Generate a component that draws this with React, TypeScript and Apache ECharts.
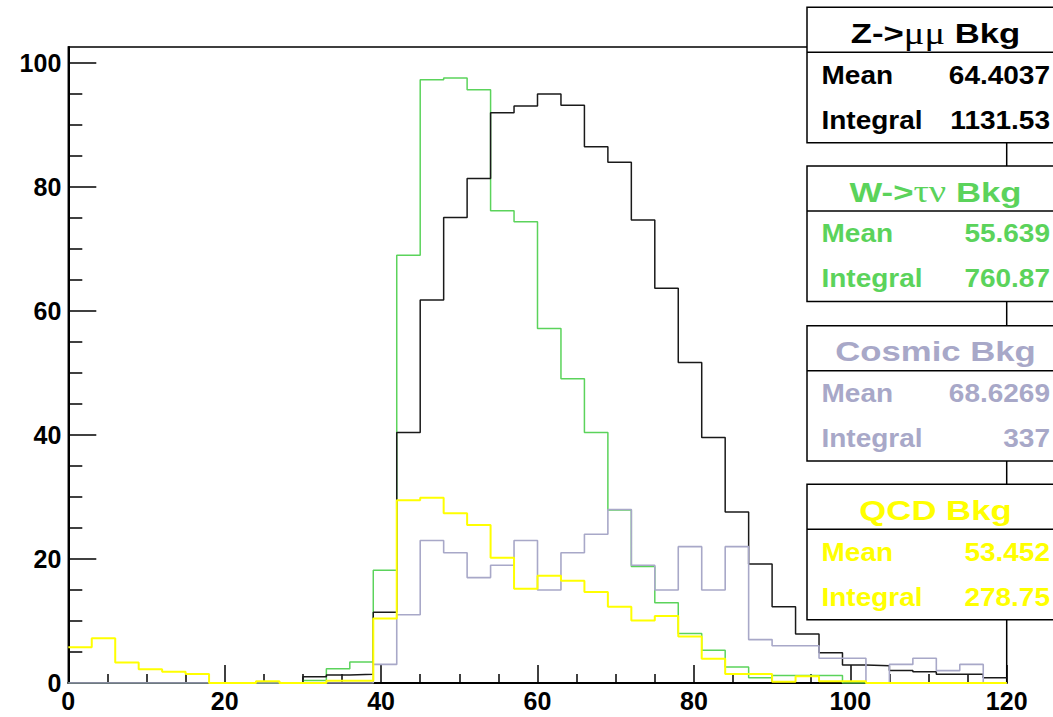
import React, { useEffect, useRef } from "react";
import * as echarts from "echarts";

// Histogram binning: 40 bins of width 3 on [0, 120)
const binLowEdges = [
  0, 3, 6, 9, 12, 15, 18, 21, 24, 27, 30, 33, 36, 39, 42, 45, 48, 51, 54, 57,
  60, 63, 66, 69, 72, 75, 78, 81, 84, 87, 90, 93, 96, 99, 102, 105, 108, 111, 114, 117,
];
const xUpperEdge = 120;

// Bin contents per background sample
const zMuMuBkg = [
  0, 0, 0, 0, 0, 0, 0, 0, 0.2, 0, 1.0, 1.3, 1.4, 11.4, 40.4, 61.8, 75.1, 81.4, 92.0, 93.1,
  95.0, 93.2, 86.5, 84.0, 74.7, 63.7, 51.7, 39.6, 27.6, 19.2, 12.3, 7.9, 4.9, 2.9, 2.8, 2.0, 1.8, 1.4, 1.4, 0.86,
];
const wTauNuBkg = [
  0, 0, 0, 0, 0, 0, 0, 0, 0, 0, 0.4, 2.3, 3.4, 18.2, 69.0, 97.3, 97.6, 95.7, 76.2, 74.4,
  57.2, 49.1, 40.4, 27.9, 18.8, 12.95, 8.0, 5.3, 2.6, 0.86, 1.2, 1.2, 1.2, 0, 0, 0, 0, 0, 0, 0,
];
const cosmicBkg = [
  0, 0, 0, 0, 0, 0, 0, 0, 0, 0, 0, 0, 0, 3, 11, 23, 21, 17, 19, 23,
  15, 21, 24, 28, 19, 15, 22, 15, 22, 7, 6, 6, 4, 4, 0, 3, 4, 2, 3, 0,
];
const qcdBkg = [
  5.75, 7.2, 3.3, 2.2, 1.8, 1.45, 0, 0, 0.27, 0, 0, 0.35, 0.35, 10.4, 29.5, 29.9, 27.4, 25.5, 20.2, 15.2,
  17.3, 16.5, 14.7, 12.3, 10.1, 10.8, 7.5, 3.9, 1.45, 1.45, 0.2, 1.1, 0.3, 0.3, 0, 0, 0, 0, 0, 0,
];

// Axis ticks
const xMajorTicks = [0, 20, 40, 60, 80, 100, 120];
const xMinorTicks = [5, 10, 15, 25, 30, 35, 45, 50, 55, 65, 70, 75, 85, 90, 95, 105, 110, 115];
const yMajorTicks = [0, 20, 40, 60, 80, 100];
const yMinorTicks = [5, 10, 15, 25, 30, 35, 45, 50, 55, 65, 70, 75, 85, 90, 95];
const yAxisMax = 102.6;

// Statistics boxes
const boxTitles = [
  ["Z->", "\u03bc\u03bc", " Bkg"],
  ["W->", "\u03c4\u03bd", " Bkg"],
  ["Cosmic Bkg", "", ""],
  ["QCD Bkg", "", ""],
];
const boxMeans = ["64.4037", "55.639", "68.6269", "53.452"];
const boxIntegrals = ["1131.53", "760.87", "337", "278.75"];

const COLORS = {
  z: "#1a1a1a",
  w: "#5bd35b",
  cosmic: "#a8a8c8",
  qcd: "#ffff00",
};
const boxColors = ["#000000", COLORS.w, COLORS.cosmic, COLORS.qcd];

const SANS = "'Liberation Sans', Arial, Helvetica, sans-serif";
const SERIF = "'Liberation Serif', 'Times New Roman', serif";

function stepData(values: number[]) {
  const pts = binLowEdges.map((x, i) => [x, values[i]]);
  pts.push([xUpperEdge, values[values.length - 1]]);
  return pts;
}

function buildStatBoxes() {
  const elements: any[] = [];
  const left = 807;
  const width = 256;
  const height = 135.4;
  const headerH = 45;
  const tops = [7.3, 166, 325.7, 484.3];
  const rowStretch = 1.12;
  const titleStretch = 1.24;
  tops.forEach((top, i) => {
    const color = boxColors[i];
    elements.push({
      type: "rect",
      z: 100,
      shape: { x: left, y: top, width, height },
      style: { fill: "#ffffff", stroke: "#000000", lineWidth: 1.5 },
    });
    elements.push({
      type: "line",
      z: 101,
      shape: { x1: left, y1: top + headerH, x2: left + width, y2: top + headerH },
      style: { stroke: "#000000", lineWidth: 1.5 },
    });
    const [a, b, c] = boxTitles[i];
    const titleText = b ? `{s|${a}}{g|${b}}{s|${c}}` : `{s|${a}}`;
    elements.push({
      type: "text",
      z: 102,
      x: 935.5,
      y: top + 26,
      scaleX: titleStretch,
      style: {
        text: titleText,
        align: "center",
        verticalAlign: "middle",
        fill: color,
        rich: {
          s: { fontFamily: SANS, fontWeight: "bold", fontSize: 28, fill: color },
          g: { fontFamily: SERIF, fontWeight: "normal", fontSize: 31, fill: color },
        },
      },
    });
    const rowFont = { fontFamily: SANS, fontWeight: "bold", fontSize: 25 };
    const rows: [string, string, number][] = [
      ["Mean", boxMeans[i], 68],
      ["Integral", boxIntegrals[i], 113],
    ];
    rows.forEach(([label, value, dy]) => {
      elements.push({
        type: "text",
        z: 102,
        x: 821.5,
        y: top + dy,
        scaleX: rowStretch,
        style: { text: label, ...rowFont, fill: color, align: "left", verticalAlign: "middle" },
      });
      elements.push({
        type: "text",
        z: 102,
        x: 1050,
        y: top + dy,
        scaleX: rowStretch,
        style: { text: value, ...rowFont, fill: color, align: "right", verticalAlign: "middle" },
      });
    });
  });
  return elements;
}

export default function App() {
  const ref = useRef<HTMLDivElement>(null);

  useEffect(() => {
    if (!ref.current) return;
    const chart = echarts.init(ref.current, undefined, { renderer: "svg" });
    const axisLabelStyle = {
      fontFamily: SANS,
      fontWeight: "bold" as const,
      fontSize: 25,
      lineHeight: 20,
      color: "#000",
    };
    const seriesDefs = [
      { name: "W->\u03c4\u03bd Bkg", data: wTauNuBkg, color: COLORS.w, width: 1.5 },
      { name: "Z->\u03bc\u03bc Bkg", data: zMuMuBkg, color: COLORS.z, width: 1.5 },
      { name: "Cosmic Bkg", data: cosmicBkg, color: COLORS.cosmic, width: 1.6 },
      { name: "QCD Bkg", data: qcdBkg, color: COLORS.qcd, width: 2 },
    ];
    chart.setOption({
      animation: false,
      backgroundColor: "#ffffff",
      grid: {
        left: 68.3,
        right: 1053 - 1006.7,
        top: 47,
        bottom: 717 - 683,
        show: true,
        borderColor: "#000",
        borderWidth: 1.5,
        backgroundColor: "transparent",
      },
      xAxis: [
        {
          type: "value",
          min: 0,
          max: 120,
          interval: 20,
          splitLine: { show: false },
          axisLine: { show: true, onZero: false, lineStyle: { color: "#000", width: 2 } },
          axisTick: {
            show: true,
            inside: true,
            length: 18,
            customValues: xMajorTicks,
            lineStyle: { color: "#000", width: 1.5 },
          },
          axisLabel: { ...axisLabelStyle, margin: 8, customValues: xMajorTicks },
        },
        {
          type: "value",
          min: 0,
          max: 120,
          position: "bottom",
          splitLine: { show: false },
          axisLine: { show: false },
          axisTick: {
            show: true,
            inside: true,
            length: 9,
            customValues: xMinorTicks,
            lineStyle: { color: "#000", width: 1.5 },
          },
          axisLabel: { show: false },
        },
      ],
      yAxis: [
        {
          type: "value",
          min: 0,
          max: yAxisMax,
          splitLine: { show: false },
          axisLine: { show: true, onZero: false, lineStyle: { color: "#000", width: 2 } },
          axisTick: {
            show: true,
            inside: true,
            length: 28,
            customValues: yMajorTicks,
            lineStyle: { color: "#000", width: 1.5 },
          },
          axisLabel: { ...axisLabelStyle, margin: 7, customValues: yMajorTicks },
        },
        {
          type: "value",
          min: 0,
          max: yAxisMax,
          position: "left",
          splitLine: { show: false },
          axisLine: { show: false },
          axisTick: {
            show: true,
            inside: true,
            length: 14,
            customValues: yMinorTicks,
            lineStyle: { color: "#000", width: 1.5 },
          },
          axisLabel: { show: false },
        },
      ],
      series: seriesDefs.map((s) => ({
        type: "line",
        name: s.name,
        step: "end",
        xAxisIndex: 0,
        yAxisIndex: 0,
        data: stepData(s.data),
        showSymbol: false,
        symbol: "none",
        lineStyle: { color: s.color, width: s.width },
        itemStyle: { color: s.color },
      })),
      graphic: buildStatBoxes(),
    });
    return () => chart.dispose();
  }, []);

  return (
    <div
      ref={ref}
      style={{ position: "fixed", left: 0, top: 0, width: 1053, height: 717, background: "#fff" }}
    />
  );
}
